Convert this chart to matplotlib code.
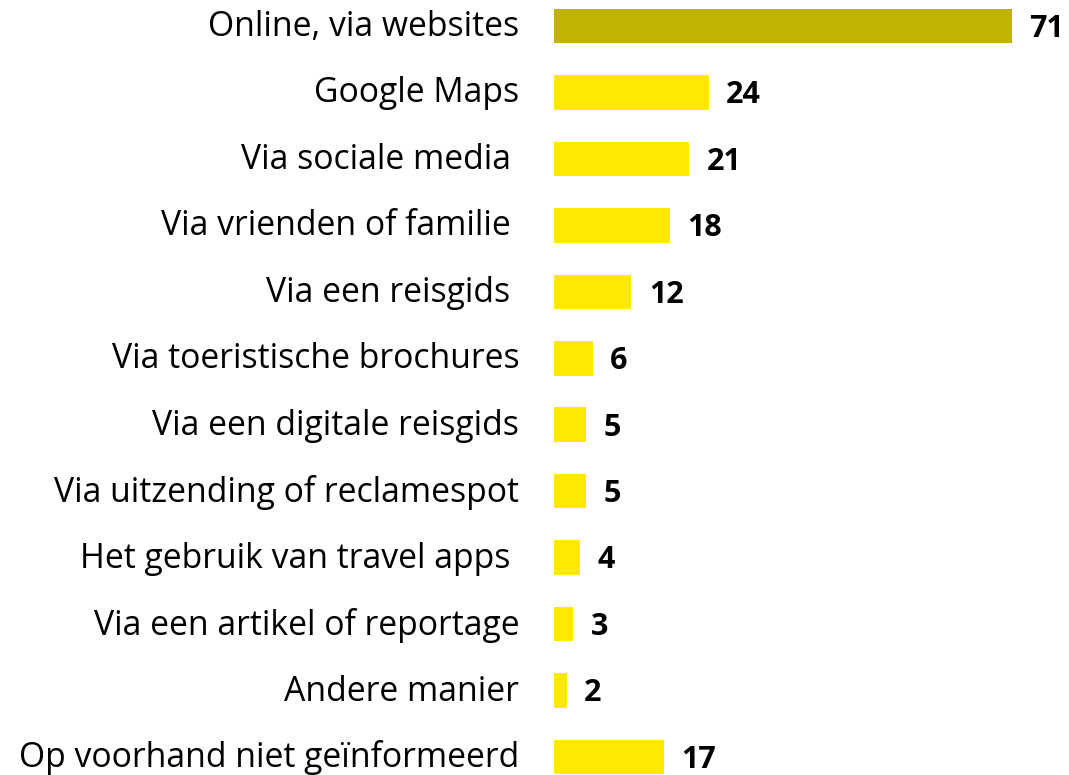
import matplotlib.pyplot as plt
from matplotlib.transforms import ScaledTranslation

labels = ["Online, via websites", "Google Maps", "Via sociale media ",
          "Via vrienden of familie ", "Via een reisgids ",
          "Via toeristische brochures", "Via een digitale reisgids",
          "Via uitzending of reclamespot", "Het gebruik van travel apps ",
          "Via een artikel of reportage", "Andere manier",
          "Op voorhand niet geïnformeerd"]
values = [71, 24, 21, 18, 12, 6, 5, 5, 4, 3, 2, 17]
colors = ["#C2B300"] + ["#FFE900"] * 11

fig = plt.figure(figsize=(10.69, 7.75), dpi=100)
ax = fig.add_axes([554 / 1069, 0, 515 / 1069, 1])

y = list(range(len(values)))
ax.barh(y, values, height=0.52, color=colors)
ax.set_xlim(0, 515 / 6.45)
ax.set_ylim(11 + 18 / 66.45, -26 / 66.45)

ax.set_yticks(y)
ax.set_yticklabels(labels, fontsize=24.3, family="Open Sans")
ax.tick_params(axis="y", length=0, pad=25)
shift = ScaledTranslation(0, 3 / 100, fig.dpi_scale_trans)
for lbl in ax.get_yticklabels():
    lbl.set_transform(lbl.get_transform() + shift)
ax.set_xticks([])
for s in ax.spines.values():
    s.set_visible(False)

for i, v in enumerate(values):
    ax.annotate(str(v), (v, i), xytext=(12.5, -2), textcoords="offset points",
                ha="left", va="center", fontsize=22, fontweight="bold", family="Open Sans")

fig.savefig("out.png", dpi=100)
